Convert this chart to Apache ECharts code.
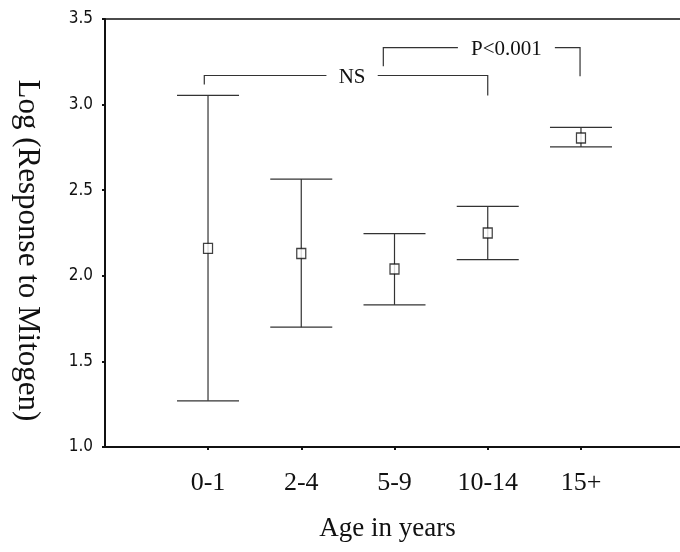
<!DOCTYPE html>
<html>
<head>
<meta charset="utf-8">
<script src="https://cdn.jsdelivr.net/npm/echarts@6/dist/echarts.min.js"></script>
<style>
html,body{margin:0;padding:0;background:#fff;}
#chart{width:680px;height:552px;}
</style>
</head>
<body>
<div id="chart"></div>
<script>
// ---- data ----
var categories = ['0-1', '2-4', '5-9', '10-14', '15+'];
var meanValues = [2.16, 2.13, 2.04, 2.25, 2.805];
var lowerValues = [1.27, 1.70, 1.83, 2.094, 2.753];
var upperValues = [3.054, 2.565, 2.246, 2.405, 2.867];
var yTicks = [1.0, 1.5, 2.0, 2.5, 3.0, 3.5];

// significance brackets (x in category-index units, y in axis units)
var bracketLabels = ['NS', 'P<0.001'];
var bracketFrom = [-0.04, 1.88];
var bracketTo = [3.0, 3.99];
var bracketGapStart = [1.27, 2.68];
var bracketGapEnd = [1.82, 3.72];
var bracketTop = [3.17, 3.333];
var bracketLeftEnd = [3.117, 3.224];
var bracketRightEnd = [3.053, 3.165];

var serif = "'Liberation Serif', 'Times New Roman', serif";
var narrow = "'Liberation Sans Narrow', 'DejaVu Sans Condensed', 'Liberation Sans', sans-serif";
var ink = '#111';
var lineInk = '#333';

var errData = categories.map(function (c, i) { return [i, lowerValues[i], upperValues[i]]; });
var bracketData = bracketLabels.map(function (l, i) {
  return [bracketFrom[i], bracketTo[i], bracketGapStart[i], bracketGapEnd[i], bracketTop[i], bracketLeftEnd[i], bracketRightEnd[i], i];
});

var chart = echarts.init(document.getElementById('chart'), null, {renderer: 'canvas'});
var option = {
  animation: false,
  backgroundColor: '#fff',
  grid: [
    {left: 105, right: -5, top: 19, bottom: 105},
    {left: 161.4, right: 52.4, top: 19, bottom: 105}
  ],
  xAxis: [
    {gridIndex: 0, type: 'value', min: 0, max: 1, position: 'bottom',
     axisLine: {show: true, lineStyle: {color: ink, width: 2}},
     axisTick: {show: false}, axisLabel: {show: false}, splitLine: {show: false}},
    {gridIndex: 0, type: 'value', min: 0, max: 1, position: 'top',
     axisLine: {show: true, lineStyle: {color: ink, width: 1.5}},
     axisTick: {show: false}, axisLabel: {show: false}, splitLine: {show: false}},
    {gridIndex: 1, type: 'category', data: categories, position: 'bottom',
     axisLine: {show: false},
     axisTick: {show: true, alignWithLabel: true, length: 3, lineStyle: {color: ink, width: 2}},
     axisLabel: {color: ink, fontFamily: serif, fontSize: 26, margin: 23},
     splitLine: {show: false},
     name: 'Age in years', nameLocation: 'middle', nameGap: 68,
     nameTextStyle: {color: ink, fontFamily: serif, fontSize: 27, padding: [0, 14, 0, 0]}},
    {gridIndex: 1, type: 'value', min: -0.5, max: 4.5, show: false}
  ],
  yAxis: [
    {gridIndex: 0, type: 'value', min: yTicks[0], max: yTicks[yTicks.length - 1], interval: 0.5,
     axisLine: {show: true, lineStyle: {color: ink, width: 2}},
     axisTick: {show: true, length: 3, lineStyle: {color: ink, width: 2}},
     axisLabel: {color: ink, fontFamily: narrow, fontSize: 17, margin: 12,
       formatter: function (v) { return v.toFixed(1); }},
     splitLine: {show: false},
     name: 'Log (Response to Mitogen)', nameLocation: 'middle', nameRotate: -90, nameGap: 62,
     nameTextStyle: {color: ink, fontFamily: serif, fontSize: 31, padding: [0, 0, 0, 35]}},
    {gridIndex: 1, type: 'value', min: yTicks[0], max: yTicks[yTicks.length - 1], show: false}
  ],
  series: [
    {
      type: 'custom', xAxisIndex: 2, yAxisIndex: 1, data: errData, silent: true,
      renderItem: function (params, api) {
        var x = api.value(0);
        var lo = api.coord([x, api.value(1)]);
        var hi = api.coord([x, api.value(2)]);
        var half = 31;
        var st = {stroke: lineInk, lineWidth: 1.2};
        return {type: 'group', children: [
          {type: 'line', shape: {x1: lo[0], y1: lo[1], x2: hi[0], y2: hi[1]}, style: st},
          {type: 'line', shape: {x1: hi[0] - half, y1: hi[1], x2: hi[0] + half, y2: hi[1]}, style: st},
          {type: 'line', shape: {x1: lo[0] - half, y1: lo[1], x2: lo[0] + half, y2: lo[1]}, style: st}
        ]};
      }
    },
    {
      type: 'scatter', xAxisIndex: 2, yAxisIndex: 1, data: meanValues, silent: true,
      symbol: 'rect', symbolSize: [9, 10],
      itemStyle: {color: '#fff', borderColor: ink, borderWidth: 1.3}, z: 5
    },
    {
      type: 'custom', xAxisIndex: 3, yAxisIndex: 1, data: bracketData, silent: true,
      renderItem: function (params, api) {
        var x1 = api.value(0), x2 = api.value(1), g1 = api.value(2), g2 = api.value(3);
        var top = api.value(4), e1 = api.value(5), e2 = api.value(6);
        var idx = api.value(7);
        var pL = api.coord([x1, e1]), pLT = api.coord([x1, top]);
        var pG1 = api.coord([g1, top]), pG2 = api.coord([g2, top]);
        var pRT = api.coord([x2, top]), pR = api.coord([x2, e2]);
        var st = {stroke: lineInk, lineWidth: 1.2, fill: null};
        return {type: 'group', children: [
          {type: 'polyline', shape: {points: [pL, pLT, pG1]}, style: st},
          {type: 'polyline', shape: {points: [pG2, pRT, pR]}, style: st},
          {type: 'text', style: {
            text: bracketLabels[idx], x: (pG1[0] + pG2[0]) / 2, y: pLT[1] + 2,
            align: 'center', verticalAlign: 'middle',
            font: '21px ' + serif, fill: ink}}
        ]};
      }
    }
  ]
};
chart.setOption(option);
</script>
</body>
</html>
